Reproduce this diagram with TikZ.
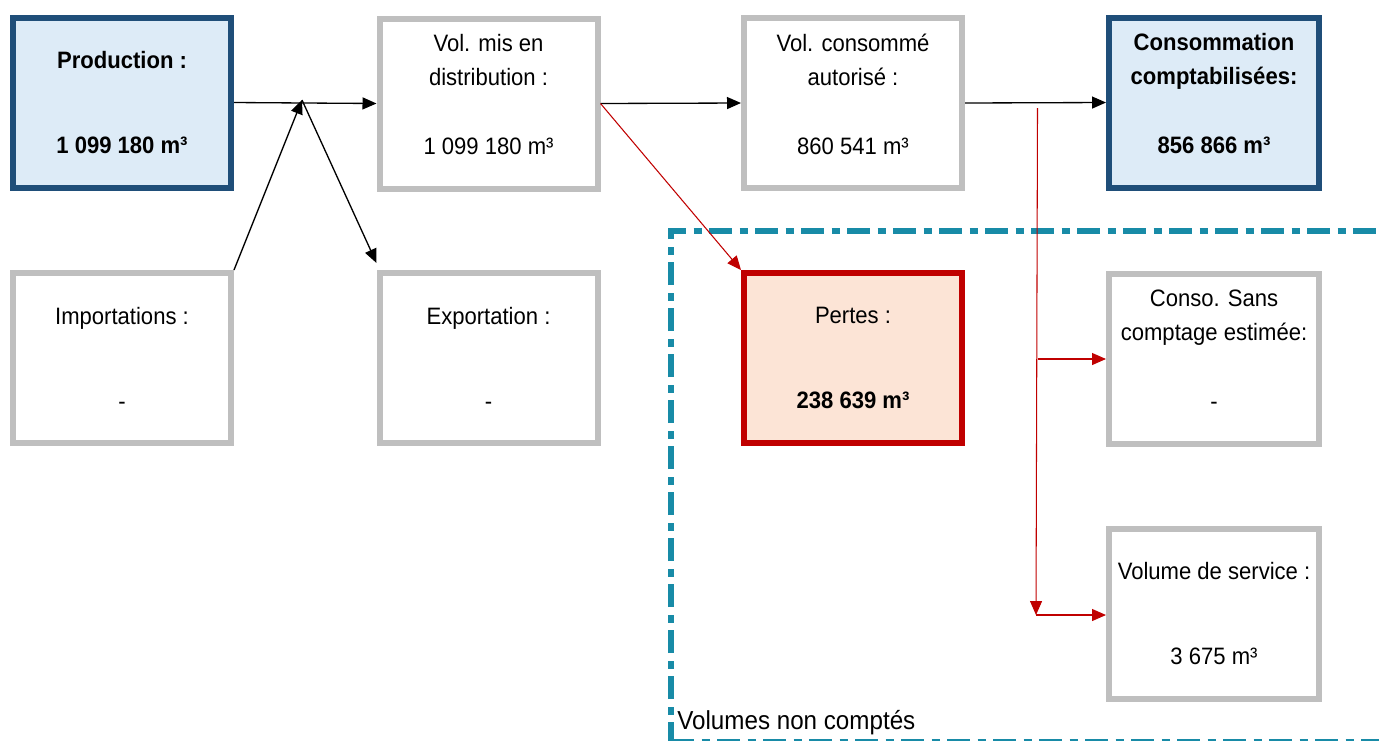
\documentclass[tikz,border=0pt]{standalone}
\usepackage{fontspec}
\setmainfont{Liberation Sans}[FakeStretch=0.93]
\usetikzlibrary{arrows.meta}

\definecolor{bilanblue}{RGB}{31,78,121}
\definecolor{bilanlight}{RGB}{221,235,247}
\definecolor{bilangrey}{RGB}{191,191,191}
\definecolor{bilanred}{RGB}{192,0,0}
\definecolor{bilanpink}{RGB}{252,228,214}
\definecolor{bilanteal}{RGB}{24,139,167}

\begin{document}
\begin{tikzpicture}[
  box/.style={draw, line width=0.12cm, minimum width=4.36cm, minimum height=3.4cm,
    inner sep=0pt, align=center, font=\fontsize{13.5pt}{19.35pt}\selectfont},
  greybox/.style={box, draw=bilangrey, fill=white},
  bluebox/.style={box, draw=bilanblue, fill=bilanlight},
  redbox/.style={box, draw=bilanred, fill=bilanpink},
  flow/.style={-{Triangle[length=0.28cm,width=0.24cm]}, line width=0.75pt, black},
  lossflow/.style={-{Triangle[length=0.28cm,width=0.24cm]}, line width=0.6pt, bilanred},
  frame/.style={line width=0.115cm, bilanteal, dash pattern=on 0.46cm off 0.15cm on 0.16cm off 0.15cm}
]
\useasboundingbox (0,0) rectangle (27.58,-14.8);

% cadre des volumes non comptes
\draw[frame] (13.42,-14.9) -- (13.42,-4.62) -- (28.2,-4.62);
\draw[frame] (13.42,-14.84) -- (28.2,-14.84);
\node[anchor=base west, inner sep=0pt, font=\fontsize{14.8pt}{16pt}\selectfont] (nc) at (13.54,-14.58) {Volumes non compt\'es};

% ligne du haut
\node[bluebox] (prod) at (2.44,-2.05) {\textbf{Production :}\\[1.02cm]\textbf{1 099 180 m³}};
\node[greybox] (dist) at (9.77,-2.07) {Vol. mis en\\distribution :\\[0.70cm]1 099 180 m³\rule[-0.36cm]{0pt}{0pt}};
\node[greybox] (auto) at (17.06,-2.06) {Vol. consomm\'e\\autoris\'e :\\[0.70cm]860 541 m³\rule[-0.36cm]{0pt}{0pt}};
\node[bluebox, minimum width=4.2cm] (compt) at (24.28,-2.05) {\textbf{Consommation}\\\textbf{comptabilis\'ees:}\\[0.70cm]\textbf{856 866 m³}\rule[-0.36cm]{0pt}{0pt}};

% ligne du bas
\node[greybox] (imp) at (2.44,-7.16) {Importations :\\[1.02cm]-};
\node[greybox] (exp) at (9.77,-7.16) {Exportation :\\[1.02cm]-};
\node[redbox] (pertes) at (17.06,-7.16) {Pertes :\\[1.02cm]\textbf{238 639 m³}};
\node[greybox, minimum width=4.2cm] (sans) at (24.28,-7.18) {Conso. Sans\\comptage estim\'ee:\\[0.70cm]-\rule[-0.36cm]{0pt}{0pt}};
\node[greybox, minimum width=4.2cm] (serv) at (24.28,-12.28) {Volume de service :\\[1.02cm]3 675 m³};

% fleches
\coordinate (j) at (6.04,-2.0);
\coordinate (rtop) at (20.75,-2.16);
\coordinate (rbot) at (20.72,-12.3);
\draw[flow] (prod.east) -- (dist.west);
\draw[flow] (imp.north east) -- (j);
\draw[flow] (j) -- ([yshift=0.14cm]exp.north west);
\draw[flow] (dist.east) -- (auto.west);
\draw[flow] (auto.east) -- (compt.west);
\draw[lossflow] (dist.east) -- (pertes.north west);
\draw[lossflow] (rtop) -- (rbot);
\draw[lossflow] (rtop |- sans.west) -- (sans.west);
\draw[lossflow] (rbot) -- (rbot -| serv.west);
\end{tikzpicture}
\end{document}
